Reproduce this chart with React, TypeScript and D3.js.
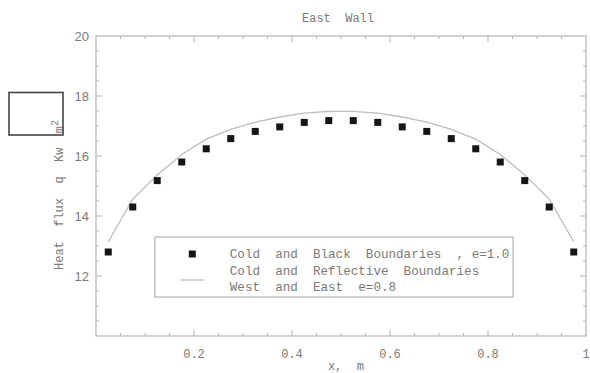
import { scaleLinear, line, range } from "d3";

// x positions of the computed cells (m)
const xCells = [0.025, 0.075, 0.125, 0.175, 0.225, 0.275, 0.325, 0.375, 0.425, 0.475,
  0.525, 0.575, 0.625, 0.675, 0.725, 0.775, 0.825, 0.875, 0.925, 0.975];

// Cold and black boundaries, e=1.0 (squares)
const blackFlux = [12.8, 14.3, 15.18, 15.8, 16.24, 16.58, 16.82, 16.97, 17.12, 17.18,
  17.18, 17.12, 16.97, 16.82, 16.58, 16.24, 15.8, 15.18, 14.3, 12.8];

// Cold and reflective boundaries, west and east e=0.8 (line)
const reflFlux = [13.14, 14.56, 15.37, 16.05, 16.56, 16.89, 17.13, 17.3, 17.43, 17.49,
  17.49, 17.43, 17.3, 17.13, 16.89, 16.56, 16.05, 15.37, 14.56, 13.14];

const xTicks = [0.2, 0.4, 0.6, 0.8, 1];
const xTickLabels = ["0.2", "0.4", "0.6", "0.8", "1"];
const yTicks = [12, 14, 16, 18, 20];

const legendLines = [
  "Cold  and  Black  Boundaries  , e=1.0",
  "Cold  and  Reflective  Boundaries",
  "West  and  East  e=0.8",
];

export default function App() {
  const width = 590;
  const height = 373;

  const MARGIN = { left: 96, right: 4, top: 36, bottom: 37 };
  const boundsWidth = width - MARGIN.left - MARGIN.right;
  const boundsHeight = height - MARGIN.top - MARGIN.bottom;

  const scaleX = scaleLinear().domain([0, 1]).range([0, boundsWidth]);
  const scaleY = scaleLinear().domain([10, 20]).range([boundsHeight, 0]);

  const AXIS = "#b4b4b4";
  const TEXT = "#7a7a7a";
  const MONO = "'Liberation Mono', 'DejaVu Sans Mono', monospace";

  const lineGen = line<number>()
    .x((_, i) => scaleX(xCells[i]))
    .y((d) => scaleY(d));

  const minorX = range(0.05, 1, 0.05);
  const minorY = range(10.5, 20, 0.5);
  const isMajorX = (v: number) => Math.abs(v * 5 - Math.round(v * 5)) < 1e-6;
  const isMajorY = (v: number) => Math.abs(v / 2 - Math.round(v / 2)) < 1e-6;

  const SQ = 7;

  return (
    <div style={{ position: "absolute", left: 0, top: 0 }}>
      <svg width={width} height={height} style={{ display: "block", background: "#fff" }}>
        <text x={338} y={22} textAnchor="middle" fill={TEXT}
          style={{ fontFamily: MONO, fontSize: "12px", whiteSpace: "pre" }}>
          {"East  Wall"}
        </text>

        <g transform={`translate(${MARGIN.left}, ${MARGIN.top})`}>
          <rect x={0} y={0} width={boundsWidth} height={boundsHeight}
            fill="none" stroke={AXIS} strokeWidth={1.2} />

          {minorX.map((v) => {
            const len = isMajorX(v) ? 6 : 3;
            return (
              <g key={"x" + v} transform={`translate(${scaleX(v)}, 0)`}>
                <line y1={boundsHeight} y2={boundsHeight - len} stroke={AXIS} />
                <line y1={0} y2={len} stroke={AXIS} />
              </g>
            );
          })}
          {minorY.map((v) => {
            const len = isMajorY(v) ? 6 : 3;
            return (
              <g key={"y" + v} transform={`translate(0, ${scaleY(v)})`}>
                <line x1={0} x2={len} stroke={AXIS} />
                <line x1={boundsWidth} x2={boundsWidth - len} stroke={AXIS} />
              </g>
            );
          })}

          {xTicks.map((v, i) => (
            <text key={v} x={scaleX(v)} y={boundsHeight + 22} textAnchor="middle" fill={TEXT}
              style={{ fontFamily: MONO, fontSize: "12px" }}>
              {xTickLabels[i]}
            </text>
          ))}
          {yTicks.map((v) => (
            <text key={v} x={-7} y={scaleY(v) + 5} textAnchor="end" fill={TEXT}
              style={{ fontFamily: "'Liberation Sans', Arial, sans-serif", fontSize: "13px" }}>
              {v}
            </text>
          ))}

          <path d={lineGen(reflFlux) ?? ""} fill="none" stroke="#bdbdbd" strokeWidth={1.3} />

          {blackFlux.map((v, i) => (
            <rect key={i} x={scaleX(xCells[i]) - SQ / 2} y={scaleY(v) - SQ / 2}
              width={SQ} height={SQ} fill="#161616" />
          ))}

          {/* legend */}
          <g transform={`translate(${scaleX(0.12)}, ${scaleY(13.3)})`}>
            <rect x={0} y={0} width={scaleX(0.851) - scaleX(0.12)} height={60}
              fill="#fff" stroke={AXIS} strokeWidth={1.2} />
            <rect x={37.5 - SQ / 2} y={17 - SQ / 2} width={SQ} height={SQ} fill="#161616" />
            <line x1={26} x2={49} y1={43} y2={43} stroke="#bdbdbd" strokeWidth={1.3} />
            {legendLines.map((t, i) => (
              <text key={i} x={75} y={21 + i * 16.5} fill={TEXT}
                style={{ fontFamily: MONO, fontSize: "12.6px", whiteSpace: "pre" }}>
                {t}
              </text>
            ))}
          </g>

          <text x={scaleX(0.51)} y={boundsHeight + 34} textAnchor="middle" fill={TEXT}
            style={{ fontFamily: MONO, fontSize: "12px", whiteSpace: "pre" }}>
            {"x,  m"}
          </text>
        </g>

        <text transform="translate(63, 270) rotate(-90)" fill={TEXT}
          style={{ fontFamily: MONO, fontSize: "12px", whiteSpace: "pre" }}>
          {"Heat  flux  q  Kw  m"}
          <tspan dy={-5} style={{ fontSize: "10px" }}>2</tspan>
        </text>
        <rect x={9} y={92.5} width={54} height={42.5} fill="none" stroke="#444" strokeWidth={1.6} />
      </svg>
    </div>
  );
}
